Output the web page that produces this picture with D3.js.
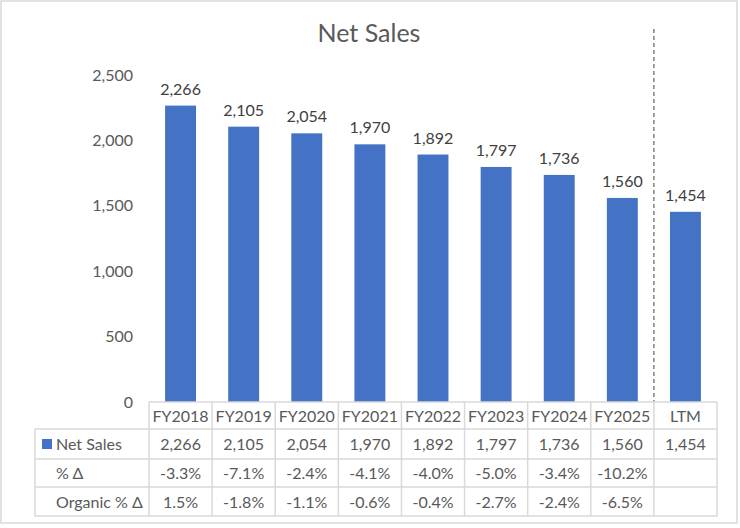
<!DOCTYPE html>
<html>
<head>
<meta charset="utf-8">
<script src="https://cdn.jsdelivr.net/npm/d3@7"></script>
<style>
  body { margin: 0; background: #fff; }
  svg text { font-family: Lato, "Open Sans", sans-serif; fill: #595959; }
</style>
</head>
<body>
<div id="chart"></div>
<script>
const categories = ['FY2018', 'FY2019', 'FY2020', 'FY2021', 'FY2022', 'FY2023', 'FY2024', 'FY2025', 'LTM'];
const netSales = [2266, 2105, 2054, 1970, 1892, 1797, 1736, 1560, 1454];
const pctChange = ['-3.3%', '-7.1%', '-2.4%', '-4.1%', '-4.0%', '-5.0%', '-3.4%', '-10.2%', ''];
const organicChange = ['1.5%', '-1.8%', '-1.1%', '-0.6%', '-0.4%', '-2.7%', '-2.4%', '-6.5%', ''];
const yTicks = [0, 500, 1000, 1500, 2000, 2500];
const rowLabels = ['Net Sales', '% \u0394', 'Organic % \u0394'];

const W = 740, H = 528;
const fmt = d3.format(',');

const svg = d3.select('#chart').append('svg').attr('width', W).attr('height', H);

// outer chart border
svg.append('rect')
    .attr('x', 1).attr('y', 1).attr('width', 736).attr('height', 522)
    .attr('fill', '#fff').attr('stroke', '#d9d9d9').attr('stroke-width', 1.5);

svg.append('text')
    .attr('x', 369).attr('y', 42)
    .attr('text-anchor', 'middle')
    .style('font-size', '25px')
    .text('Net Sales');

const x = d3.scaleBand().domain(categories).range([149, 717]).paddingInner(0).paddingOuter(0);
const y = d3.scaleLinear().domain([0, 2500]).range([402, 75]);

// y axis labels, no line
const yAxis = svg.append('g').attr('transform', 'translate(133,0)')
    .call(d3.axisLeft(y).tickValues(yTicks).tickFormat(fmt).tickSize(0).tickPadding(0));
yAxis.select('.domain').remove();
yAxis.selectAll('text').style('font-size', '16px').attr('fill', '#595959');

const barW = x.bandwidth() * 0.49;
svg.selectAll('rect.bar')
    .data(netSales)
    .enter()
    .append('rect')
    .attr('class', 'bar')
    .attr('x', (d, i) => x(categories[i]) + (x.bandwidth() - barW) / 2)
    .attr('y', d => y(d))
    .attr('width', barW)
    .attr('height', d => y(0) - y(d))
    .attr('fill', '#4472c4');

svg.selectAll('text.lbl')
    .data(netSales)
    .enter()
    .append('text')
    .attr('class', 'lbl')
    .attr('x', (d, i) => x(categories[i]) + x.bandwidth() / 2)
    .attr('y', d => y(d) - 11)
    .attr('text-anchor', 'middle')
    .style('font-size', '16px')
    .style('fill', '#404040')
    .text(fmt);

// dashed separator before LTM
svg.append('line')
    .attr('x1', x('LTM')).attr('x2', x('LTM'))
    .attr('y1', 29).attr('y2', y(0))
    .attr('stroke', '#7f7f7f').attr('stroke-width', 1.5)
    .attr('stroke-dasharray', '4,3');

// data table
const rowY = [402, 429, 459, 487, 516];
const tableLeft = 35;
const grid = svg.append('g').attr('stroke', '#d9d9d9').attr('stroke-width', 1.5);

rowY.forEach((yy, i) => {
    grid.append('line')
        .attr('x1', i === 0 ? 149 : tableLeft)
        .attr('x2', 717).attr('y1', yy).attr('y2', yy);
});
grid.append('line').attr('x1', tableLeft).attr('x2', tableLeft).attr('y1', rowY[1]).attr('y2', rowY[4]);
categories.forEach(c => {
    grid.append('line').attr('x1', x(c)).attr('x2', x(c)).attr('y1', rowY[0]).attr('y2', rowY[4]);
});
grid.append('line').attr('x1', 717).attr('x2', 717).attr('y1', rowY[0]).attr('y2', rowY[4]);

const rows = [categories, netSales.map(fmt), pctChange, organicChange];
rows.forEach((vals, r) => {
    svg.selectAll(null)
        .data(vals)
        .enter()
        .append('text')
        .attr('x', (d, i) => x(categories[i]) + x.bandwidth() / 2)
        .attr('y', (rowY[r] + rowY[r + 1]) / 2 + 6)
        .attr('text-anchor', 'middle')
        .style('font-size', '16px')
        .text(d => d);
});

// row labels
rowLabels.forEach((t, r) => {
    svg.append('text')
        .attr('x', 56)
        .attr('y', (rowY[r + 1] + rowY[r + 2]) / 2 + 6)
        .style('font-size', '16px')
        .text(t);
});
svg.append('rect')
    .attr('x', 42).attr('y', 439).attr('width', 10).attr('height', 10)
    .attr('fill', '#4472c4');
</script>
</body>
</html>
